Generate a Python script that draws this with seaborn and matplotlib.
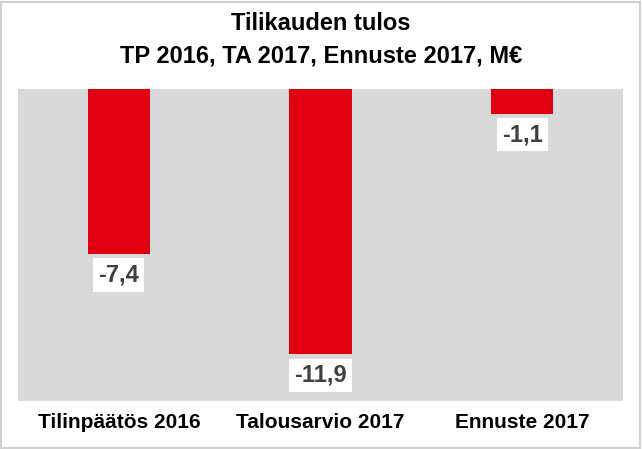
import matplotlib
matplotlib.use("Agg")
import matplotlib.pyplot as plt
import seaborn as sns
import pandas as pd
from matplotlib.patches import Rectangle

categories = ["Tilinpäätös 2016", "Talousarvio 2017", "Ennuste 2017"]
values = [-7.4, -11.9, -1.1]
value_labels = ["-7,4", "-11,9", "-1,1"]
title = "Tilikauden tulos\nTP 2016, TA 2017, Ennuste 2017, M€"

sns.set_theme(style="white")
plt.rcParams["font.family"] = ["Liberation Sans", "DejaVu Sans"]

df = pd.DataFrame({"cat": categories, "val": values})

fig = plt.figure(figsize=(6.42, 4.49), dpi=100)
W, H = 642, 449
ax = fig.add_axes([18 / W, 1 - 401 / H, (623 - 18) / W, (401 - 89) / H])
ax.set_facecolor("#D9D9D9")

sns.barplot(data=df, x="cat", y="val", color="#E00012", saturation=1,
            width=0.31, ax=ax, edgecolor="none")

ax.set_ylim(-14, 0)
ax.set_xlim(-0.5, 2.5)
ax.set_yticks([])
ax.set_xlabel("")
ax.set_ylabel("")
for s in ax.spines.values():
    s.set_visible(False)
ax.tick_params(axis="x", length=0, pad=9)
for t in ax.get_xticklabels():
    t.set_fontsize(15)
    t.set_fontweight("bold")
    t.set_color("black")

for i, (v, lab) in enumerate(zip(values, value_labels)):
    ax.annotate(lab, xy=(i, v), xytext=(0, -7), textcoords="offset points",
                ha="center", va="top", fontsize=17, fontweight="bold",
                color="#404040",
                bbox=dict(boxstyle="square,pad=0.22", fc="white", ec="none"))

fig.text(0.5, 1 - 12 / H, title, ha="center", va="top", fontsize=17,
         fontweight="bold", color="black", linespacing=1.5)

fig.patches.append(Rectangle((1 / W, 1 / H), (W - 3) / W, (H - 3) / H,
                             transform=fig.transFigure, fill=False,
                             ec="#D0D0D0", lw=1.5))

fig.savefig("out.png", dpi=100, facecolor="white")
